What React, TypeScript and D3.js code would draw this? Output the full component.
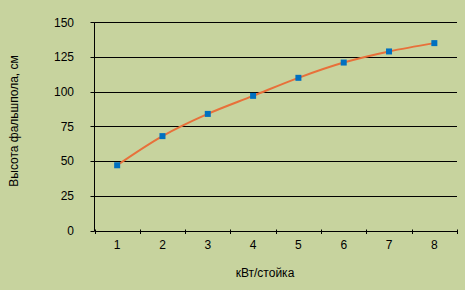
import React from "react";
import * as d3 from "d3";

const categories = ["1", "2", "3", "4", "5", "6", "7", "8"];
const values = [47, 68, 84, 97, 110, 121, 129, 135];
const yTicks = [0, 25, 50, 75, 100, 125, 150];
const xTitle = "кВт/стойка";
const yTitle = "Высота фальшпола, см";

const W = 465;
const H = 290;
const FONT = "'Liberation Sans', Arial, sans-serif";

export default function App() {
  const left = 94.5;
  const right = 457;
  const top = 22.3;
  const bottom = 230.5;
  const x = d3.scaleBand<string>().domain(categories).range([left, right]).padding(0);
  const y = d3.scaleLinear().domain([0, 150]).range([bottom, top]);
  const cx = (c: string) => (x(c) as number) + x.bandwidth() / 2;
  const pts: [number, number][] = categories.map((c, i) => [cx(c), y(values[i])]);
  const line = d3.line().curve(d3.curveCatmullRom.alpha(0.5))(pts) as string;
  const boundaries = [...categories.map((c) => x(c) as number), right];

  return (
    <svg width={W} height={H} style={{ position: "absolute", left: 0, top: 0, display: "block" }}>
      <rect x={0} y={0} width={W} height={H} fill="#C7D39E" />
      {yTicks.map((t) => (
        <g key={t}>
          {t > 0 && (
            <line x1={left} x2={right} y1={Math.round(y(t)) + 0.5} y2={Math.round(y(t)) + 0.5} stroke="#000" strokeWidth={1} />
          )}
          <line x1={left - 4} x2={left} y1={Math.round(y(t)) + 0.5} y2={Math.round(y(t)) + 0.5} stroke="#000" strokeWidth={1} />
          <text x={74} y={y(t)} dy="0.36em" textAnchor="end" fontFamily={FONT} fontSize={12} fill="#000">
            {t}
          </text>
        </g>
      ))}
      <line x1={left} x2={left} y1={top} y2={bottom + 0.5} stroke="#000" strokeWidth={1} />
      <line x1={left} x2={right} y1={Math.round(bottom) + 0.5} y2={Math.round(bottom) + 0.5} stroke="#000" strokeWidth={1} />
      {boundaries.map((b, i) => (
        <line key={i} x1={Math.round(b) + 0.5} x2={Math.round(b) + 0.5} y1={bottom - 1} y2={bottom + 3.5} stroke="#000" strokeWidth={1} />
      ))}
      {categories.map((c) => (
        <text key={c} x={cx(c)} y={245} dy="0.36em" textAnchor="middle" fontFamily={FONT} fontSize={12} fill="#000">
          {c}
        </text>
      ))}
      <path d={line} fill="none" stroke="#E8703A" strokeWidth={2} />
      {pts.map(([px, py], i) => (
        <rect key={i} x={px - 3} y={py - 3} width={6} height={6} fill="#0070C0" />
      ))}
      <text x={265} y={272.5} dy="0.36em" textAnchor="middle" fontFamily={FONT} fontSize={12} fill="#000">
        {xTitle}
      </text>
      <text
        transform={`translate(14,121) rotate(-90)`}
        dy="0.36em"
        textAnchor="middle"
        fontFamily={FONT}
        fontSize={12}
        fill="#000"
      >
        {yTitle}
      </text>
    </svg>
  );
}
